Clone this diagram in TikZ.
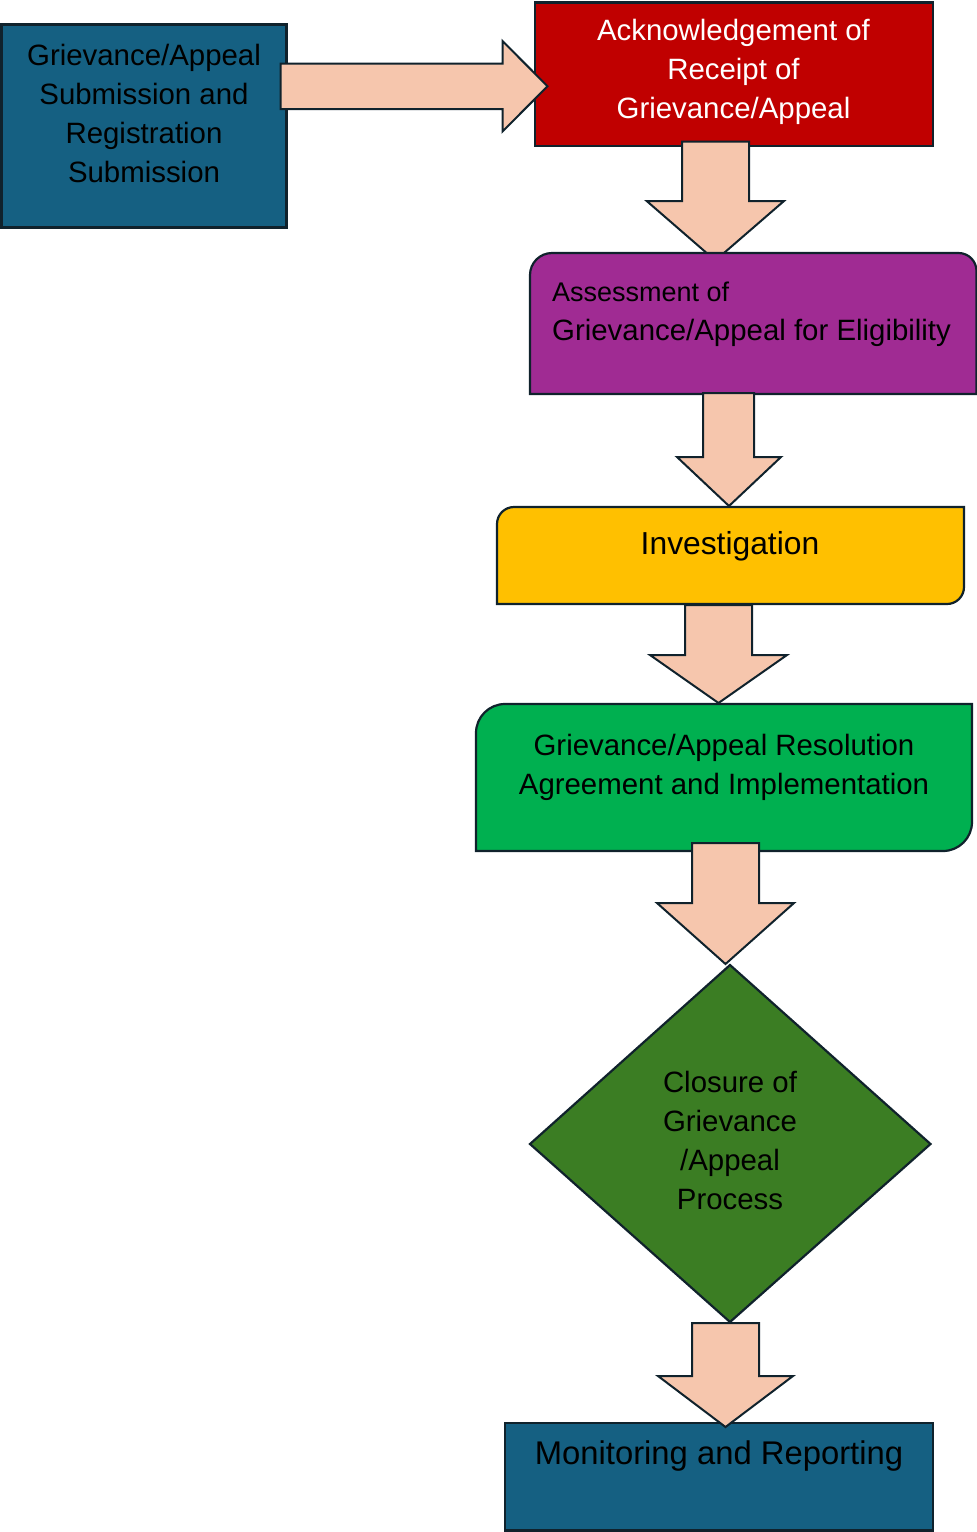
\documentclass[tikz,border=0pt]{standalone}
\usepackage{fontspec}
\setmainfont{Liberation Sans}
\definecolor{edge}{HTML}{10222C}
\definecolor{navy}{HTML}{156082}
\definecolor{redbox}{HTML}{C00000}
\definecolor{purplebox}{HTML}{A02B93}
\definecolor{yellowbox}{HTML}{FFC000}
\definecolor{greenbox}{HTML}{00B050}
\definecolor{darkgreen}{HTML}{3B7D23}
\definecolor{peach}{HTML}{F6C6AD}
\newcommand{\stk}[1]{\begin{tabular}[t]{@{}c@{}}#1\end{tabular}}
\tikzset{
  box/.style={draw=edge, line width=2.2pt, line join=miter, inner sep=0pt},
  blockarrow/.style={draw=edge, fill=peach, line width=2pt, line join=miter},
  txt/.style={inner sep=0pt, anchor=base, font=\fontsize{29.4}{39}\selectfont},
}
\begin{document}
\begin{tikzpicture}[x=1pt,y=-1pt]
\useasboundingbox (0,0) rectangle (977,1532);
% boxes
\node[box, fill=navy, minimum width=285pt, minimum height=203pt] (b1) at (144,126) {};
\node[box, fill=redbox, minimum width=398pt, minimum height=143.5pt] (b2) at (734,74.25) {};
% arrow red -> purple (tip hidden under purple)
\draw[blockarrow] (682,141.5) -- (749,141.5) -- (749,201) -- (784,201) -- (715.3,260.5) -- (646.7,201) -- (682,201) -- cycle;
\draw[box, fill=purplebox] (530,394) -- (530,275) .. controls (530,262.86) and (539.86,253) .. (552,253) -- (958.5,253) .. controls (968.44,253) and (976.5,261.06) .. (976.5,271) -- (976.5,394) -- cycle;
\coordinate (b3) at (752,323);
\draw[box, fill=yellowbox] (497,604) -- (497,524) .. controls (497,514.6) and (504.6,507) .. (514,507) -- (964,507) -- (964,587) .. controls (964,596.4) and (956.4,604) .. (947,604) -- cycle;
\coordinate (b4) at (730,555);
\draw[box, fill=greenbox] (476,851) -- (476,733) .. controls (476,717) and (489,704) .. (505,704) -- (972,704) -- (972,822) .. controls (972,838) and (959,851) .. (943,851) -- cycle;
\coordinate (b5) at (724,777);
\draw[box, fill=darkgreen] (730,965) -- (930.5,1144) -- (730,1322) -- (530,1144) -- cycle;
\coordinate (b6) at (730,1144);
\node[box, fill=navy, minimum width=428pt, minimum height=107.5pt] (b7) at (719,1476.75) {};
% block arrows on top
\draw[blockarrow] (280.5,63.5) -- (502.5,63.5) -- (502.5,41) -- (547.5,86.25) -- (502.5,131.5) -- (502.5,109) -- (280.5,109) -- cycle;
\draw[blockarrow] (703,393) -- (754,393) -- (754,457) -- (781,457) -- (729,506) -- (677,457) -- (703,457) -- cycle;
\draw[blockarrow] (685,605) -- (752,605) -- (752,655) -- (787,655) -- (718.5,703) -- (650,655) -- (685,655) -- cycle;
\draw[blockarrow] (692,843) -- (759,843) -- (759,903) -- (794,903) -- (725.5,964) -- (657,903) -- (692,903) -- cycle;
\draw[blockarrow] (692,1323) -- (759,1323) -- (759,1376) -- (793,1376) -- (725.5,1427) -- (658,1376) -- (692,1376) -- cycle;
% texts
\node[txt] (t1) at (144,65) {\stk{Grievance/Appeal\\Submission and\\Registration\\Submission}};
\node[txt, text=white] (t2) at (733.5,40) {\stk{Acknowledgement of\\Receipt of\\Grievance/Appeal}};
\node[txt, anchor=base west] (t3) at (552,301) {\begin{tabular}[t]{@{}l@{}}{\fontsize{27}{39}\selectfont Assessment of}\\Grievance/Appeal for Eligibility\end{tabular}};
\node[txt, font=\fontsize{31.8}{39}\selectfont] (t4) at (730,554) {Investigation};
\node[txt] (t5) at (724,755) {\stk{Grievance/Appeal Resolution\\Agreement and Implementation}};
\node[txt] (t6) at (730,1092.3) {\stk{Closure of\\Grievance\\/Appeal\\Process}};
\node[txt, font=\fontsize{32.8}{39}\selectfont] (t7) at (719,1464) {Monitoring and Reporting};
\end{tikzpicture}
\end{document}
